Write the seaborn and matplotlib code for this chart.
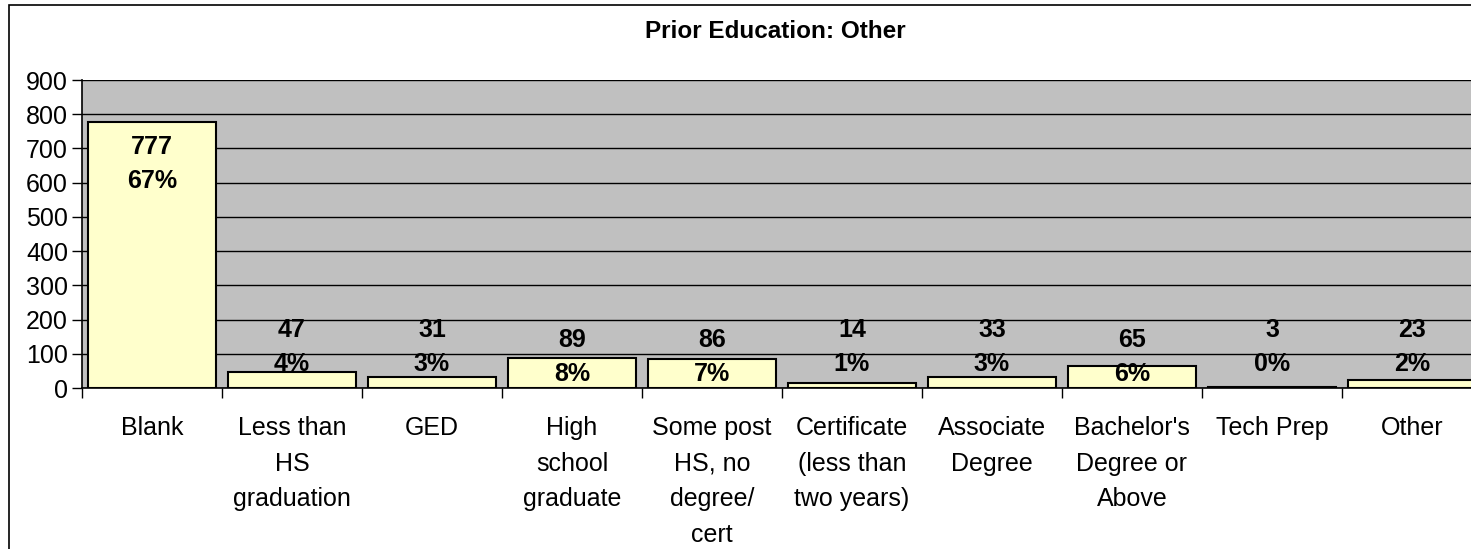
import matplotlib
matplotlib.use("Agg")
import matplotlib.pyplot as plt
from matplotlib.patches import Rectangle
import seaborn as sns
import pandas as pd

categories = ["Blank", "Less than\nHS\ngraduation", "GED", "High\nschool\ngraduate",
              "Some post\nHS, no\ndegree/\ncert", "Certificate\n(less than\ntwo years)",
              "Associate\nDegree", "Bachelor's\nDegree or\nAbove", "Tech Prep", "Other"]
counts = [777, 47, 31, 89, 86, 14, 33, 65, 3, 23]
percents = [67, 4, 3, 8, 7, 1, 3, 6, 0, 2]
yticks = list(range(0, 1000, 100))

sns.set_style("white")
plt.rcParams['font.family'] = ['Liberation Sans', 'DejaVu Sans']
plt.rcParams['text.color'] = 'black'
plt.rcParams['xtick.color'] = 'black'
plt.rcParams['ytick.color'] = 'black'

W, H = 1471, 549
fig = plt.figure(figsize=(W / 100, H / 100), dpi=100)

# outer chart border (cut off on right and bottom like the source)
fig.patches.append(Rectangle((9 / W, -0.1), 2.0, 1 - 5 / H + 0.1, transform=fig.transFigure,
                             fill=False, edgecolor='black', linewidth=1.2))

ax = fig.add_axes([82 / W, (H - 388) / H, 1400 / W, 308 / H])
ax.set_facecolor('#C0C0C0')

df = pd.DataFrame({'cat': categories, 'count': counts})
sns.barplot(data=df, x='cat', y='count', color='#FFFFCC', edgecolor='black',
            linewidth=1.5, width=0.92, saturation=1, ax=ax, zorder=3)

ax.set_ylim(0, 900)
ax.set_xlim(-0.5, len(categories) - 0.5)
ax.set_yticks(yticks)
ax.yaxis.grid(True, color='black', linewidth=1)
ax.set_axisbelow(True)
for s in ['top', 'right']:
    ax.spines[s].set_visible(False)
for s in ['left', 'bottom']:
    ax.spines[s].set_color('black')
    ax.spines[s].set_linewidth(1.2)

ax.tick_params(axis='y', direction='out', length=7, width=1, color='black',
               labelsize=18, pad=3, left=True)
ax.set_xticks(range(len(categories)))
ax.set_xticklabels(categories, fontsize=18, linespacing=1.62, va='top')
ax.set_xticks([i - 0.5 for i in range(len(categories) + 1)], minor=True)
ax.tick_params(axis='x', which='major', length=0, pad=20)
ax.tick_params(axis='x', which='minor', direction='out', length=7, width=1,
               color='black', bottom=True)
ax.set_xlabel('')
ax.set_ylabel('')


def label_y(v):
    # Excel-style label placement: inside top for tall bar, otherwise above
    if v > 700:
        return v - 122
    if v >= 60:
        return 91
    return 120


for i, (c, p) in enumerate(zip(counts, percents)):
    ax.text(i, label_y(c), f"{c}\n{p}%", ha='center', va='center', fontsize=18,
            fontweight='bold', linespacing=1.5, zorder=5)

fig.text(775 / W, 1 - 32 / H, "Prior Education: Other", ha='center', va='center',
         fontsize=17.5, fontweight='bold')

fig.savefig("out.png", dpi=100)
